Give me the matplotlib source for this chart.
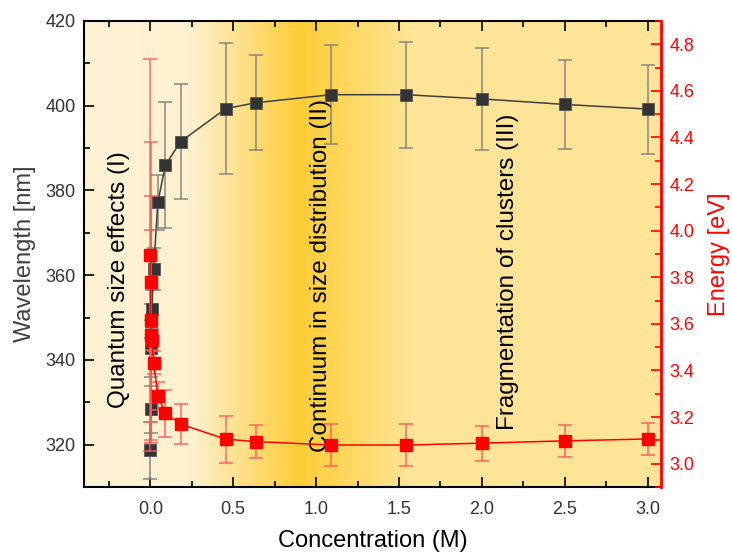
import matplotlib
matplotlib.use('Agg')
import matplotlib.pyplot as plt
import numpy as np
from matplotlib.colors import LinearSegmentedColormap

plt.rcParams['font.family'] = ['Liberation Sans', 'DejaVu Sans']

# concentration (M)
conc = [0.0005, 0.001, 0.002, 0.004, 0.009, 0.02, 0.045, 0.091, 0.182,
        0.4545, 0.636, 1.09, 1.54, 2.0, 2.5, 3.0]

# wavelength (nm) and error
wavelength = [318.7, 328.3, 342.7, 349.1, 351.9, 361.4, 377.2, 386.0, 391.5,
              399.3, 400.7, 402.6, 402.6, 401.6, 400.3, 399.2]
wavelength_err = [6.7, 5.5, 6.7, 4.0, 4.5, 5.0, 6.5, 14.9, 13.6,
                  15.4, 11.2, 11.7, 12.5, 12.0, 10.5, 10.5]

# energy (eV) and error
energy = [3.896, 3.781, 3.617, 3.552, 3.530, 3.434, 3.291, 3.216, 3.170,
          3.105, 3.095, 3.080, 3.080, 3.088, 3.098, 3.106]
energy_err = [0.84, 0.60, 0.53, 0.45, 0.04, 0.05, 0.06, 0.10, 0.085,
              0.10, 0.07, 0.09, 0.09, 0.075, 0.07, 0.07]

regions = ['Quantum size effects (I)',
           'Continuum in size distribution (II)',
           'Fragmentation of clusters (III)']
region_x = [-0.19, 1.03, 2.16]
region_y = [328.6, 318.3, 323.4]

fig = plt.figure(figsize=(7.32, 5.52), dpi=100)
ax1 = fig.add_axes([0.1148, 0.1178, 0.7882, 0.8442])
ax2 = ax1.twinx()

xmin, xmax = -0.4, 3.08
ax1.set_xlim(xmin, xmax)
ax1.set_ylim(310, 420)
ax2.set_ylim(2.9, 4.9)

# background gradient
stops = [(-0.4, '#fef3d4'), (0.24, '#fef1cf'), (0.9, '#fdcd36'),
         (1.58, '#fee597'), (3.08, '#fee496')]
cmap = LinearSegmentedColormap.from_list(
    'bg', [((s - xmin) / (xmax - xmin), c) for s, c in stops])
grad = np.linspace(0, 1, 600).reshape(1, -1)
ax1.imshow(grad, cmap=cmap, extent=[xmin, xmax, 310, 420], aspect='auto',
           zorder=0, interpolation='bilinear')

# wavelength series
ax1.errorbar(conc, wavelength, yerr=wavelength_err, fmt='none',
             ecolor='#7f7f7f', elinewidth=1.2, capsize=5, capthick=1.2,
             alpha=0.85, zorder=2)
ax1.plot(conc, wavelength, color='#404040', linewidth=1.1, marker='s',
         markersize=8, markerfacecolor='#333333', markeredgecolor='#555555',
         markeredgewidth=0.6, zorder=3)

# energy series
ax2.errorbar(conc, energy, yerr=energy_err, fmt='none',
             ecolor='#ff5a5a', elinewidth=1.2, capsize=5, capthick=1.2,
             alpha=0.85, zorder=2)
ax2.plot(conc, energy, color='#ff0000', linewidth=1.1, marker='s',
         markersize=8, markerfacecolor='#ff0000', markeredgecolor='#ff0000',
         zorder=3)

for label, xx, yy in zip(regions, region_x, region_y):
    ax1.text(xx, yy, label, rotation=90, ha='center', va='bottom',
             fontsize=17.5, color='black', zorder=4)

# axes styling
ax1.set_xticks([0.0, 0.5, 1.0, 1.5, 2.0, 2.5, 3.0])
ax1.set_xticks(np.arange(-0.25, 3.01, 0.5), minor=True)
ax1.set_yticks(np.arange(320, 421, 20))
ax1.set_yticks(np.arange(310, 420, 20), minor=True)
ax2.set_yticks(np.arange(3.0, 4.81, 0.2))
ax2.set_yticks(np.arange(2.9, 4.9, 0.2), minor=True)
ax1.xaxis.set_major_formatter(matplotlib.ticker.FormatStrFormatter('%.1f'))
ax2.yaxis.set_major_formatter(matplotlib.ticker.FormatStrFormatter('%.1f'))

ax1.tick_params(axis='both', which='both', direction='in', top=True,
                labelsize=13, colors='black', labelcolor='#333333')
ax1.tick_params(axis='both', which='major', length=7, width=1.2)
ax1.tick_params(axis='both', which='minor', length=4, width=1.2)
ax1.tick_params(axis='x', pad=10)
ax1.tick_params(axis='y', pad=6)
ax2.tick_params(axis='y', which='both', direction='in', colors='#ff0000',
                labelsize=13, width=1.2)
ax2.tick_params(axis='y', which='major', length=7, pad=6)
ax2.tick_params(axis='y', which='minor', length=4)

for s in ['left', 'bottom', 'top']:
    ax1.spines[s].set_linewidth(1.5)
ax2.spines['right'].set_color('#ff0000')
ax2.spines['right'].set_linewidth(2)
ax2.spines['left'].set_visible(False)
ax2.spines['top'].set_visible(False)
ax2.spines['bottom'].set_visible(False)

ax1.set_xlabel('Concentration (M)', fontsize=17, color='black', va='center')
ax1.xaxis.set_label_coords(0.5, -0.116)
ax1.set_ylabel('Wavelength [nm]', fontsize=17, color='#404040', va='center')
ax1.yaxis.set_label_coords(-0.102, 0.5)
ax2.set_ylabel('Energy [eV]', fontsize=17, color='#ff0000', va='center')
ax2.yaxis.set_label_coords(1.1, 0.5)

fig.savefig('out.png', dpi=100)
